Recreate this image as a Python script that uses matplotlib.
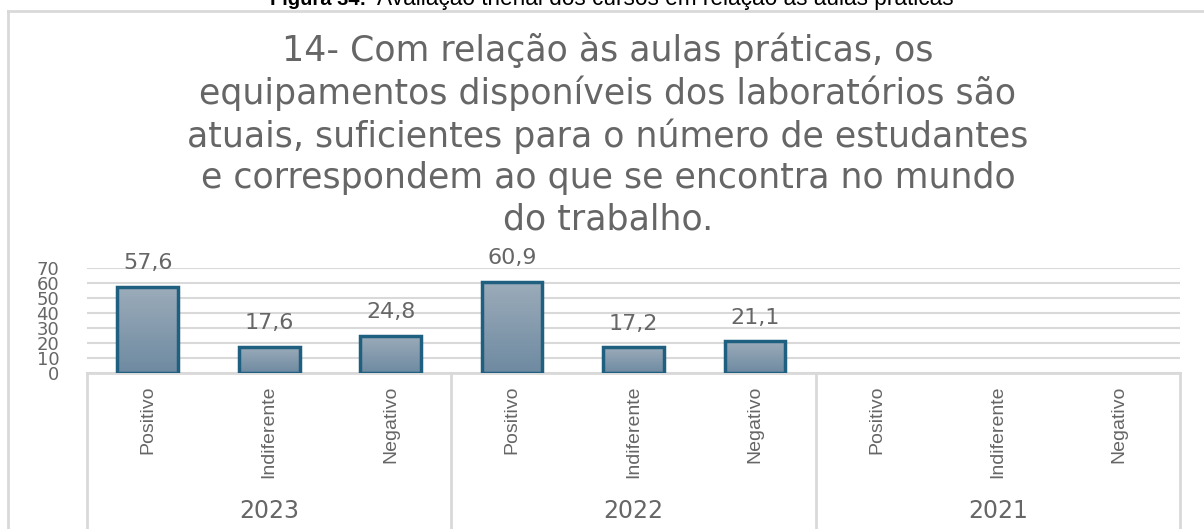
import numpy as np
import matplotlib
matplotlib.use("Agg")
import matplotlib.pyplot as plt
from matplotlib.lines import Line2D

# ── Data ─────────────────────────────────────────────────────
years = ["2023", "2022", "2021"]
answers = ["Positivo", "Indiferente", "Negativo"]
values_2023 = [57.6, 17.6, 24.8]
values_2022 = [60.9, 17.2, 21.1]
values_2021 = [np.nan, np.nan, np.nan]
yticks = [0, 10, 20, 30, 40, 50, 60, 70]

title = ("14- Com relação às aulas práticas, os\n"
         "equipamentos disponíveis dos laboratórios são\n"
         "atuais, suficientes para o número de estudantes\n"
         "e correspondem ao que se encontra no mundo\n"
         "do trabalho.")
caption_bold = "Figura 34:"
caption_rest = "Avaliação trienal dos cursos em relação às aulas práticas"

GRAY = "#666666"
LINE = "#d9d9d9"
EDGE = "#1f5f7f"
WIDE = ["DejaVu Sans"]
SANS = ["Liberation Sans", "DejaVu Sans"]
NARROW = ["Liberation Sans Narrow", "Liberation Sans", "DejaVu Sans"]

W, H = 1204, 529
fig = plt.figure(figsize=(W / 100, H / 100), dpi=100)

# outer chart border (top + left)
fig.add_artist(Line2D([8 / W, 8 / W], [0, 1 - 11 / H], color=LINE, lw=2))
fig.add_artist(Line2D([8 / W, 1], [1 - 11 / H, 1 - 11 / H], color=LINE, lw=2))

# caption, cut off by the top edge
fig.text(366 / W, 1 - 5 / H, caption_bold, ha="right", va="baseline",
         fontsize=14.5, fontweight="bold", family=SANS, color="black")
fig.text(377 / W, 1 - 5 / H, caption_rest, ha="left", va="baseline",
         fontsize=16.3, family=SANS, color="black")

# title
fig.text(608 / W, 1 - 32 / H, title, ha="center", va="top", fontsize=25,
         color=GRAY, family=WIDE, linespacing=1.27)

ax_l, ax_r = 87 / W, 1180 / W
ax_b, ax_t = (H - 373) / H, (H - 268) / H
ax = fig.add_axes([ax_l, ax_b, ax_r - ax_l, ax_t - ax_b])

vals = values_2023 + values_2022 + values_2021
cats = answers * len(years)
x = np.arange(len(vals))

ax.set_yticks(yticks)
ax.set_yticklabels([str(t) for t in yticks], fontsize=13, color=GRAY, family=WIDE)
ax.tick_params(axis="y", length=0, pad=20)
ax.set_xticks([])
ax.grid(axis="y", color=LINE, lw=1.5)
ax.set_axisbelow(True)
for s in ax.spines.values():
    s.set_visible(False)

# gradient bars
grad = np.linspace(0, 1, 256).reshape(-1, 1)
cmap = matplotlib.colors.LinearSegmentedColormap.from_list("g", ["#6e8aa1", "#9cacba"])
bars = ax.bar(x, np.nan_to_num(vals), width=0.5, facecolor="none",
              edgecolor=EDGE, linewidth=2.5, zorder=3)
for b, v in zip(bars, vals):
    if np.isnan(v):
        b.set_visible(False)
        continue
    x0, w, h = b.get_x(), b.get_width(), b.get_height()
    im = ax.imshow(grad, cmap=cmap, extent=[x0, x0 + w, 0, h], origin="lower",
                   aspect="auto", zorder=2)
    im.set_clip_path(b)
    ax.annotate(f"{v:.1f}".replace(".", ","), (x0 + w / 2, h), xytext=(0, 17),
                textcoords="offset points", ha="center", va="center",
                fontsize=16, color=GRAY, family=WIDE)
ax.set_xlim(-0.5, len(vals) - 0.5)
ax.set_ylim(0, 70)

# category axis box
trans = ax.get_xaxis_transform()
ax.plot([-0.5, len(vals) - 0.5], [0, 0], color=LINE, lw=2, transform=trans, clip_on=False)
for i in range(len(years) + 1):
    xb = -0.5 + 3 * i
    ax.plot([xb, xb], [0, -1.5], color=LINE, lw=2, transform=trans, clip_on=False)
for xi, c in zip(x, cats):
    ax.text(xi, -13 / 105, c, rotation=90, ha="center", va="top", transform=trans,
            fontsize=14, color=GRAY, family=NARROW)
for i, yr in enumerate(years):
    ax.text(3 * i + 1, -138 / 105, yr, ha="center", va="center", transform=trans,
            fontsize=17, color=GRAY, family=WIDE)

fig.savefig("out.png", dpi=100)
